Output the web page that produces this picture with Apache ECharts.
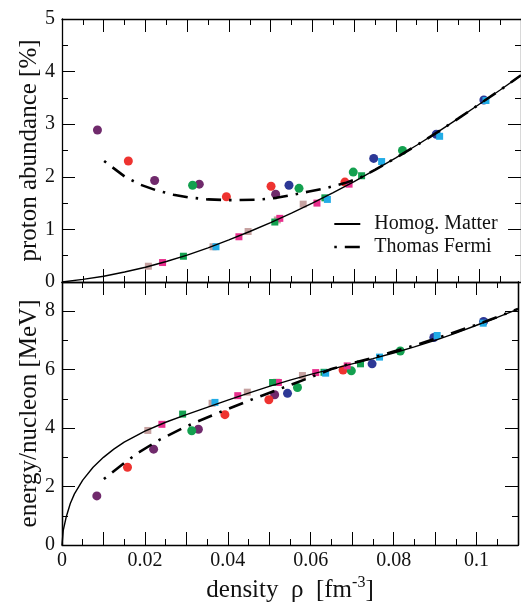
<!DOCTYPE html>
<html>
<head>
<meta charset="utf-8">
<script src="https://cdn.jsdelivr.net/npm/echarts/dist/echarts.min.js"></script>
<style>
  html, body { margin: 0; padding: 0; background: #fff; }
  #chart { width: 521px; height: 608px; }
</style>
</head>
<body>
<div id="chart"></div>
<script>
// ---- tick labels ----
const xTickLabels = ['0', '0.02', '0.04', '0.06', '0.08', '0.1'];
const yTopTickLabels = ['0', '1', '2', '3', '4', '5'];
const yBottomTickLabels = ['0', '2', '4', '6', '8'];

// ---- curves: proton abundance [%] vs density ----
const abundanceHomog = [
  [0, 0], [0.005, 0.05], [0.01, 0.11], [0.015, 0.19], [0.02, 0.28], [0.025, 0.39],
  [0.03, 0.51], [0.035, 0.65], [0.04, 0.80], [0.045, 0.96], [0.05, 1.13], [0.055, 1.31],
  [0.06, 1.50], [0.065, 1.70], [0.07, 1.91], [0.075, 2.13], [0.08, 2.36], [0.085, 2.60],
  [0.09, 2.85], [0.095, 3.11], [0.1, 3.38], [0.105, 3.65], [0.11, 3.93]
];
const abundanceTF = [
  [0.0101, 2.30], [0.0151, 2.00], [0.0188, 1.85], [0.0227, 1.74], [0.0267, 1.66],
  [0.0302, 1.61], [0.035, 1.57], [0.041, 1.555], [0.047, 1.565], [0.0514, 1.60],
  [0.0554, 1.66], [0.0592, 1.72], [0.063, 1.78], [0.0678, 1.88], [0.0714, 1.98],
  [0.075, 2.13], [0.08, 2.36], [0.085, 2.60], [0.09, 2.85], [0.095, 3.11],
  [0.1, 3.38], [0.105, 3.65], [0.11, 3.93]
];

// ---- curves: energy per nucleon [MeV] vs density ----
const energyHomog = [
  [0, 0], [0.0003, 0.5], [0.001, 0.95], [0.002, 1.42], [0.003, 1.75], [0.005, 2.22],
  [0.0075, 2.66], [0.01, 3.0], [0.0125, 3.28], [0.015, 3.52], [0.02, 3.9], [0.025, 4.2],
  [0.03, 4.46], [0.035, 4.71], [0.04, 4.96], [0.045, 5.2], [0.05, 5.43], [0.055, 5.64],
  [0.06, 5.84], [0.065, 6.02], [0.07, 6.2], [0.075, 6.38], [0.08, 6.57], [0.085, 6.78],
  [0.09, 7.0], [0.095, 7.25], [0.1, 7.52], [0.105, 7.79], [0.11, 8.07]
];
const energyTF = [
  [0.0101, 2.26], [0.0147, 2.77], [0.0184, 3.16], [0.0235, 3.60], [0.0291, 4.00],
  [0.0326, 4.22], [0.0385, 4.57], [0.0442, 4.89], [0.0482, 5.11], [0.054, 5.42],
  [0.0598, 5.73], [0.065, 6.02], [0.07, 6.22], [0.075, 6.41], [0.08, 6.62],
  [0.0856, 6.85], [0.0933, 7.21], [0.1, 7.54], [0.105, 7.8], [0.11, 8.08]
];

// ---- simulation points, proton abundance (circles / squares) ----
const abundCirclePurple = [[0.0085, 2.89], [0.0222, 1.93], [0.0329, 1.86], [0.0512, 1.67]];
const abundCircleRed    = [[0.0159, 2.30], [0.0394, 1.62], [0.0501, 1.82], [0.0678, 1.90]];
const abundCircleGreen  = [[0.0313, 1.84], [0.0568, 1.78], [0.0698, 2.09], [0.0816, 2.50]];
const abundCircleBlue   = [[0.0544, 1.84], [0.0747, 2.35], [0.0897, 2.81], [0.1011, 3.46]];
const abundSquareRosy    = [[0.0207, 0.30], [0.0362, 0.67], [0.0446, 0.96], [0.0516, 1.18], [0.0578, 1.48]];
const abundSquareMagenta = [[0.0241, 0.37], [0.0424, 0.86], [0.0522, 1.21], [0.0611, 1.50], [0.0688, 1.86]];
const abundSquareGreen   = [[0.0291, 0.49], [0.0510, 1.14], [0.0630, 1.60], [0.0718, 2.02]];
const abundSquareCyan    = [[0.0369, 0.67], [0.0636, 1.57], [0.0766, 2.29], [0.0905, 2.77], [0.1016, 3.45]];

// ---- simulation points, energy per nucleon ----
const energyCirclePurple = [[0.0084, 1.68], [0.0221, 3.28], [0.0329, 3.96], [0.0513, 5.14]];
const energyCircleRed    = [[0.0158, 2.66], [0.0393, 4.46], [0.0499, 4.97], [0.0678, 5.99]];
const energyCircleGreen  = [[0.0313, 3.91], [0.0568, 5.39], [0.0698, 5.96], [0.0816, 6.64]];
const energyCircleBlue   = [[0.0544, 5.19], [0.0748, 6.20], [0.0897, 7.10], [0.1017, 7.65]];
const energySquareRosy    = [[0.0207, 3.92], [0.0362, 4.85], [0.0447, 5.23], [0.0518, 5.57], [0.0580, 5.80]];
const energySquareMagenta = [[0.0241, 4.13], [0.0424, 5.11], [0.0522, 5.56], [0.0612, 5.90], [0.0688, 6.13]];
const energySquareGreen   = [[0.0291, 4.48], [0.0508, 5.56], [0.0632, 5.91], [0.0720, 6.20]];
const energySquareCyan    = [[0.0369, 4.88], [0.0636, 5.88], [0.0766, 6.43], [0.0905, 7.17], [0.1016, 7.59]];

const FONT = 'Liberation Serif';
const COLORS = {
  purple: '#702A6C', red: '#EE3330', green: '#13A04F', blue: '#2D3896',
  rosy: '#C6A2A1', magenta: '#E82F8D', cyan: '#22ACE6'
};
const DASH_DOT = [15, 8, 2.5, 8];

function xAxis(gridIndex, position, withLabels) {
  return {
    type: 'value', gridIndex, position, min: 0, max: 0.11, interval: 0.01,
    axisLine: { show: true, onZero: false, lineStyle: { color: '#000', width: 1.3 } },
    axisTick: { show: true, inside: true, length: 13, lineStyle: { color: '#000', width: 1 } },
    minorTick: { show: true, splitNumber: 2, length: 6, lineStyle: { color: '#000', width: 1 } },
    splitLine: { show: false },
    axisLabel: {
      show: withLabels, margin: 6, color: '#111', fontFamily: FONT, fontSize: 20,
      formatter: v => {
        const k = Math.round(v * 100);
        return k % 2 === 0 ? (xTickLabels[k / 2] || '') : '';
      }
    },
    name: withLabels ? '{b|density  \u03C1  [fm}{sup|-3}{b|]}' : '',
    nameLocation: 'middle', nameGap: 30, nameMoveOverlap: false,
    nameTextStyle: {
      rich: {
        b: { fontFamily: FONT, fontSize: 25, lineHeight: 30, color: '#111' },
        sup: { fontFamily: FONT, fontSize: 16, lineHeight: 14, verticalAlign: 'top', color: '#111' }
      }
    }
  };
}

function yAxis(gridIndex, position, max, interval, tickLen, labels, name, minor) {
  return {
    type: 'value', gridIndex, position, min: 0, max, interval,
    axisLine: { show: true, onZero: false, lineStyle: { color: '#000', width: 1.3 } },
    axisTick: { show: true, inside: true, length: tickLen, lineStyle: { color: '#000', width: 1 } },
    minorTick: { show: !!minor, splitNumber: 2, length: 6, lineStyle: { color: '#000', width: 1 } },
    splitLine: { show: false },
    axisLabel: {
      show: !!labels, margin: 7, color: '#111', fontFamily: FONT, fontSize: 20,
      formatter: v => {
        if (!labels) return '';
        const i = Math.round(v / interval);
        return Math.abs(v - i * interval) < 1e-9 ? (labels[i] || '') : '';
      }
    },
    name: name || '', nameLocation: 'middle', nameGap: 20, nameRotate: 90, nameMoveOverlap: false,
    nameTextStyle: { fontFamily: FONT, fontSize: 25, color: '#111' }
  };
}

function lineSeries(name, data, xi, yi, dashed) {
  return {
    name, type: 'line', data, xAxisIndex: xi, yAxisIndex: yi,
    showSymbol: false, symbol: 'none', smooth: false, z: 5,
    lineStyle: dashed
      ? { color: '#000', width: 2.6, type: DASH_DOT, dashOffset: 23 }
      : { color: '#000', width: 1.4, type: 'solid' },
    itemStyle: { color: '#000' }
  };
}

function scatterSeries(data, color, shape, xi, yi) {
  return {
    type: 'scatter', data, xAxisIndex: xi, yAxisIndex: yi,
    symbol: shape, symbolSize: shape === 'circle' ? 9 : 7, z: 3,
    itemStyle: { color, opacity: 1 }, silent: true
  };
}

const option = {
  animation: false,
  backgroundColor: '#fff',
  grid: [
    { left: 62, top: 19, width: 459, height: 263 },
    { left: 62, top: 282, width: 459, height: 263 }
  ],
  xAxis: [
    xAxis(0, 'bottom', false),
    xAxis(0, 'top', false),
    xAxis(1, 'bottom', true),
    xAxis(1, 'top', false)
  ],
  yAxis: [
    yAxis(0, 'left', 5, 1, 13, yTopTickLabels, 'proton abundance [%]', true),
    yAxis(0, 'right', 5, 1, 13, null, '', true),
    yAxis(1, 'left', 9, 2, 13, yBottomTickLabels, 'energy/nucleon [MeV]', false),
    yAxis(1, 'left', 9, 1, 6, null, '', false),
    yAxis(1, 'right', 9, 2, 13, null, '', false),
    yAxis(1, 'right', 9, 1, 6, null, '', false)
  ],
  legend: {
    show: true, orient: 'vertical', left: 333, top: 214, padding: 0,
    itemWidth: 26, itemHeight: 14, itemGap: 3,
    selectedMode: false,
    itemStyle: { opacity: 0 },
    textStyle: { fontFamily: FONT, fontSize: 20, color: '#111', lineHeight: 20, padding: [0, 0, 0, 9] },
    data: [
      { name: 'Homog. Matter' },
      { name: 'Thomas Fermi', lineStyle: { type: DASH_DOT, dashOffset: 23, width: 2.6, color: '#000' } }
    ]
  },
  series: [
    scatterSeries(abundCirclePurple, COLORS.purple, 'circle', 0, 0),
    scatterSeries(abundCircleRed, COLORS.red, 'circle', 0, 0),
    scatterSeries(abundCircleGreen, COLORS.green, 'circle', 0, 0),
    scatterSeries(abundCircleBlue, COLORS.blue, 'circle', 0, 0),
    scatterSeries(abundSquareRosy, COLORS.rosy, 'rect', 0, 0),
    scatterSeries(abundSquareMagenta, COLORS.magenta, 'rect', 0, 0),
    scatterSeries(abundSquareGreen, COLORS.green, 'rect', 0, 0),
    scatterSeries(abundSquareCyan, COLORS.cyan, 'rect', 0, 0),
    scatterSeries(energyCirclePurple, COLORS.purple, 'circle', 2, 2),
    scatterSeries(energyCircleRed, COLORS.red, 'circle', 2, 2),
    scatterSeries(energyCircleGreen, COLORS.green, 'circle', 2, 2),
    scatterSeries(energyCircleBlue, COLORS.blue, 'circle', 2, 2),
    scatterSeries(energySquareRosy, COLORS.rosy, 'rect', 2, 2),
    scatterSeries(energySquareMagenta, COLORS.magenta, 'rect', 2, 2),
    scatterSeries(energySquareGreen, COLORS.green, 'rect', 2, 2),
    scatterSeries(energySquareCyan, COLORS.cyan, 'rect', 2, 2),
    lineSeries('Homog. Matter', abundanceHomog, 0, 0, false),
    lineSeries('Thomas Fermi', abundanceTF, 0, 0, true),
    lineSeries('Homog. Matter', energyHomog, 2, 2, false),
    lineSeries('Thomas Fermi', energyTF, 2, 2, true)
  ]
};

const chart = echarts.init(document.getElementById('chart'), null, { renderer: 'canvas' });
chart.setOption(option);
</script>
</body>
</html>
